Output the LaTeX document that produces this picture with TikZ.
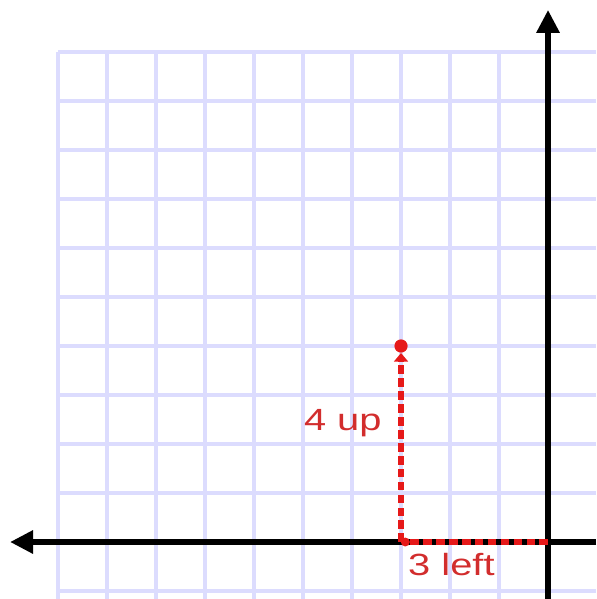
\documentclass[tikz,border=0pt]{standalone}
\usepackage{fontspec}
\newfontfamily\labelfont[FakeStretch=1.3]{Liberation Sans}
\usetikzlibrary{arrows.meta}
\definecolor{gridblue}{RGB}{220,220,254}
\definecolor{movered}{RGB}{230,25,25}
\definecolor{labelred}{RGB}{210,45,45}

\begin{document}
\begin{tikzpicture}[
    gridln/.style={draw=gridblue, line width=2pt},
    axis/.style={line width=4pt, -{Triangle[length=0.47cm, width=0.45cm]}},
    move/.style={draw=movered, line width=3pt, dash pattern=on 5pt off 2.5pt},
    dot/.style={circle, fill=movered, inner sep=0pt, minimum size=0.27cm},
    lbl/.style={text=labelred, inner sep=0pt,
                font=\labelfont\fontsize{17.8}{20}\selectfont}
]
\useasboundingbox (-11.184,-1.163) rectangle (0.98,11.061);
\draw[gridln] (-10,-1.163) grid (0.98,10);

\coordinate (O) at (0,0);
\coordinate (xend) at (0.98,0);
\coordinate (xtip) at (-10.98,0);
\coordinate (ybot) at (0,-1.163);
\coordinate (ytip) at (0,10.86);
\coordinate (foot) at (-3,0);
\node[dot] (P) at (-3,4) {};

\draw[axis] (xend) -- (xtip);
\draw[axis] (ybot) -- (ytip);

\draw[move, -{Circle[length=5pt]}] (O) -- (foot);
\draw[move, -{Triangle[length=5pt, width=8pt]}] (foot) -- (P);

\node[lbl, anchor=base east] (up) at (-3.39,2.28) {4 up};
\node[lbl, anchor=base west] (left) at (-2.86,-0.69) {3 left};
\end{tikzpicture}
\end{document}
